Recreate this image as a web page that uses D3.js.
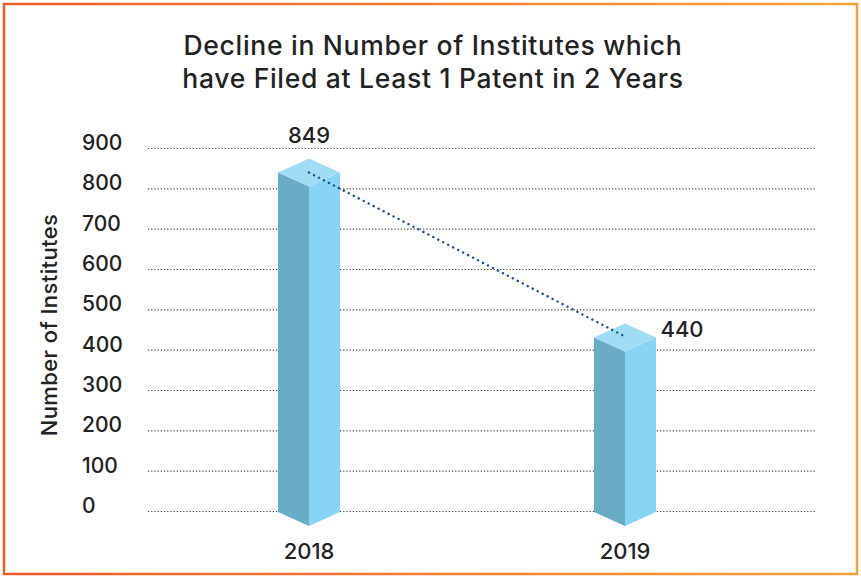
<!DOCTYPE html>
<html>
<head>
<meta charset="utf-8">
<script src="https://cdn.jsdelivr.net/npm/d3@7"></script>
<style>
  body { margin: 0; background: #fff; }
  svg text { font-family: Inter, "Liberation Sans", Arial, sans-serif; font-weight: 500; fill: #222; }
</style>
</head>
<body>
<svg id="chart" width="861" height="578"></svg>
<script>
// chart data
var years = ["2018", "2019"];
var institutes = [849, 440];
var yTicks = [0, 100, 200, 300, 400, 500, 600, 700, 800, 900];
var titleLines = ["Decline in Number of Institutes which", "have Filed at Least 1 Patent in 2 Years"];
var yTitle = "Number of Institutes";

var svg = d3.select("#chart");
var width = 861, height = 578;

// orange frame
var defs = svg.append("defs");
var grad = defs.append("linearGradient").attr("id", "frame").attr("x1", "0").attr("x2", "1");
grad.append("stop").attr("offset", "0").attr("stop-color", "#f15a29");
grad.append("stop").attr("offset", "1").attr("stop-color", "#f7a03a");

svg.append("rect")
    .attr("x", 4).attr("y", 4)
    .attr("width", width - 8).attr("height", height - 8)
    .attr("fill", "none")
    .attr("stroke", "url(#frame)")
    .attr("stroke-width", 2.5);

// title
svg.append("text")
    .attr("x", 433).attr("y", 55)
    .attr("text-anchor", "middle")
    .attr("font-size", 26.5)
    .attr("letter-spacing", 0.7)
    .selectAll("tspan")
    .data(titleLines)
    .join("tspan")
    .attr("x", 433)
    .attr("dy", function (d, i) { return i === 0 ? 0 : 33; })
    .text(function (d) { return d; });

// scales
var y = d3.scaleLinear().domain([0, 900]).range([511, 148]);
var x = d3.scalePoint().domain(years).range([309, 625]);

// gridlines
svg.append("g")
    .selectAll("line")
    .data(yTicks)
    .join("line")
    .attr("x1", 148).attr("x2", 815)
    .attr("y1", function (d) { return y(d) + 0.5; })
    .attr("y2", function (d) { return y(d) + 0.5; })
    .attr("stroke", "#444")
    .attr("stroke-width", 1.2)
    .attr("stroke-dasharray", "1.2,2");

// y tick labels
svg.append("g")
    .selectAll("text")
    .data(yTicks)
    .join("text")
    .attr("x", 82)
    .attr("y", function (d) { return y(d) + 2; })
    .attr("font-size", 21)
    .text(function (d) { return d; });

// y axis title
svg.append("text")
    .attr("transform", "translate(57,325) rotate(-90)")
    .attr("text-anchor", "middle")
    .attr("font-size", 22)
    .attr("letter-spacing", 0.4)
    .text(yTitle);

// 3d bars
var w = 31, depth = 14;
var bars = svg.append("g");

years.forEach(function (yr, i) {
    var cx = x(yr);
    var yt = y(institutes[i]) + 4;
    var yb = y(0) + 1;

    bars.append("polygon")
        .attr("points", [[cx - w, yt], [cx, yt + depth], [cx, yb + depth], [cx - w, yb]].join(" "))
        .attr("fill", "#6aabc6");
    bars.append("polygon")
        .attr("points", [[cx, yt + depth], [cx + w, yt], [cx + w, yb], [cx, yb + depth]].join(" "))
        .attr("fill", "#87d4f5");
    bars.append("polygon")
        .attr("points", [[cx - w, yt], [cx, yt - depth], [cx + w, yt], [cx, yt + depth]].join(" "))
        .attr("fill", "#a1dcf5");
});

// trend line between bar tops
var trend = d3.line()
    .x(function (d, i) { return x(years[i]) + 2 * i; })
    .y(function (d) { return y(d) + 4; });

svg.append("path")
    .attr("d", trend(institutes))
    .attr("fill", "none")
    .attr("stroke", "#1d4f8f")
    .attr("stroke-width", 2.4)
    .attr("stroke-linecap", "round")
    .attr("stroke-dasharray", "0.1,5.5");

// value labels
svg.append("text")
    .attr("x", x(years[0])).attr("y", y(institutes[0]) - 26)
    .attr("text-anchor", "middle")
    .attr("font-size", 22)
    .text(institutes[0]);

svg.append("text")
    .attr("x", x(years[1]) + 57).attr("y", y(institutes[1]) + 3)
    .attr("text-anchor", "middle")
    .attr("font-size", 22)
    .text(institutes[1]);

// x labels
svg.append("g")
    .selectAll("text")
    .data(years)
    .join("text")
    .attr("x", function (d) { return x(d); })
    .attr("y", 559)
    .attr("text-anchor", "middle")
    .attr("font-size", 22)
    .text(function (d) { return d; });
</script>
</body>
</html>
